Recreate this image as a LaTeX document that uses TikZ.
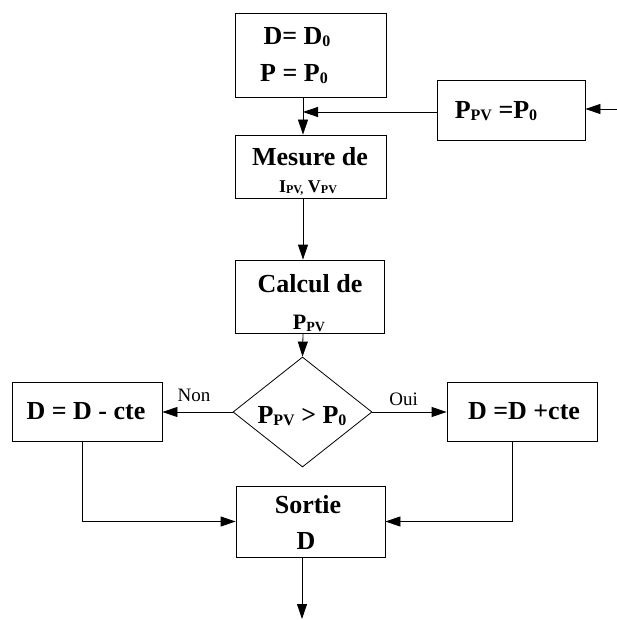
\documentclass[tikz,border=0pt]{standalone}
\usepackage{fontspec}
\setmainfont{Liberation Serif}
\usetikzlibrary{shapes.geometric,arrows.meta}
\newcommand{\sbs}[2][16]{\raisebox{-0.2ex}{\fontsize{#1}{#1}\selectfont #2}}
\begin{document}
\begin{tikzpicture}[x=1pt,y=-1pt,
  box/.style={draw,line width=0.8pt,inner sep=0pt,align=center,
    font=\bfseries\fontsize{26}{33}\selectfont},
  txt/.style={inner sep=0pt,align=center,font=\bfseries\fontsize{26}{33}\selectfont},
  lbl/.style={inner sep=0pt,font=\fontsize{19}{22}\selectfont},
  arr/.style={-{Triangle[length=15pt,width=10pt]},line width=0.8pt},
  ln/.style={line width=0.8pt}]
\useasboundingbox (0,0) rectangle (617,620);
% boxes
\node[box,minimum width=151pt,minimum height=84pt] (b1) at (310.5,55) {};
\node[box,minimum width=151pt,minimum height=63pt] (b2) at (310.5,166.5) {};
\node[box,minimum width=148pt,minimum height=60pt] (pv) at (511,110) {};
\node[box,minimum width=149pt,minimum height=73pt] (b3) at (309.5,296.5) {};
\node[draw,diamond,line width=0.8pt,inner sep=0pt,minimum width=139pt,minimum height=110pt] (dm) at (302.5,412) {};
\node[box,minimum width=150pt,minimum height=59pt] (lb) at (87,411.5) {};
\node[box,minimum width=150pt,minimum height=59pt] (rb) at (522,411.5) {};
\node[box,minimum width=149pt,minimum height=71pt] (so) at (310.5,521.5) {};
% texts
\node[txt] (t1a) at (297,37) {D= D\sbs{0}};
\node[txt] (t1b) at (294,74) {P = P\sbs{0}};
\node[txt] (t2a) at (310,157) {Mesure de};
\node[txt,font=\bfseries\fontsize{18}{22}\selectfont] (t2b) at (308,188) {I\sbs[12]{PV,} V\sbs[12]{PV}};
\node[txt] (tpv) at (496,111) {P\sbs{PV} =P\sbs{0}};
\node[txt] (t3a) at (310,284) {Calcul de};
\node[txt,font=\bfseries\fontsize{22}{26}\selectfont] (t3b) at (309,323) {P\sbs[14]{PV}};
\node[txt] (tdm) at (302,416) {P\sbs{PV} > P\sbs{0}};
\node[txt] (tlb) at (86,411) {D = D - cte};
\node[txt] (trb) at (524,411) {D =D +cte};
\node[txt] (tsa) at (308,505) {Sortie};
\node[txt] (tsb) at (306,541) {D};
% connectors
\coordinate (j) at (303,112);
\coordinate (inR) at (617,109);
\coordinate (outB) at (302,619);
\draw[arr] (b1.south -| j) -- (b2.north -| j);
\draw[arr] (pv.west |- j) -- (j);
\draw[arr] (inR) -- (inR -| pv.east);
\draw[arr] (b2.south -| j) -- (b3.north -| j);
\draw[arr] (b3.south -| j) -- (dm.north);
\draw[arr] (dm.west) -- (dm.west -| lb.east) node[lbl,pos=0.55,above=10pt] (non) {Non};
\draw[arr] (dm.east) -- (dm.east -| rb.west) node[lbl,pos=0.42,above=6pt] (oui) {Oui};
\draw[arr] ([xshift=-5pt]lb.south) |- (so.west);
\draw[arr] ([xshift=-10pt]rb.south) |- (so.east);
\draw[arr] (so.south -| outB) -- (outB);
\end{tikzpicture}
\end{document}
